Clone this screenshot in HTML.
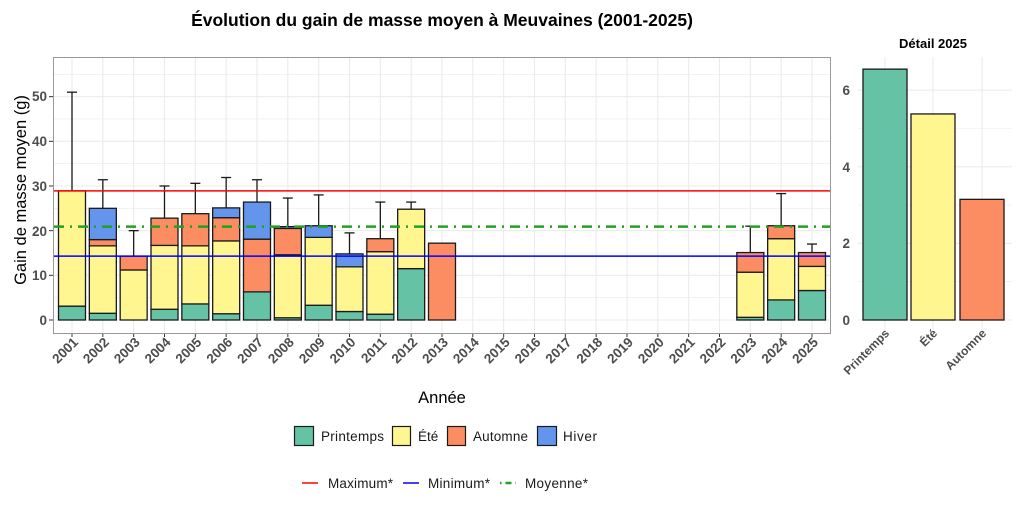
<!DOCTYPE html>
<html><head><meta charset="utf-8"><style>
html,body{margin:0;padding:0;background:#fff;}
svg{display:block;font-family:"Liberation Sans",sans-serif;}
.yl{font-size:13.5px;font-weight:bold;fill:#4d4d4d;}
.xl{font-size:13.5px;font-weight:bold;fill:#4d4d4d;}
.lg{font-size:13.5px;fill:#1a1a1a;}
</style></head><body>
<svg id="s" width="1024" height="512" viewBox="0 0 1024 512">
<g id="grid"></g>
<rect x="53.5" y="57.5" width="777" height="276" fill="none" stroke="#999" stroke-width="1"/>
<g id="bars"></g>
<text x="442" y="26" text-anchor="middle" font-size="17.5" font-weight="bold" fill="#000">Évolution du gain de masse moyen à Meuvaines (2001-2025)</text>
<text x="933" y="48" text-anchor="middle" font-size="13" font-weight="bold" fill="#000">Détail 2025</text>
<text class="yl" x="47" y="325" text-anchor="end">0</text>
<text class="yl" x="47" y="280" text-anchor="end">10</text>
<text class="yl" x="47" y="236" text-anchor="end">20</text>
<text class="yl" x="47" y="191" text-anchor="end">30</text>
<text class="yl" x="47" y="146" text-anchor="end">40</text>
<text class="yl" x="47" y="101" text-anchor="end">50</text>
<text class="yl" x="850" y="325" text-anchor="end" font-size="12">0</text>
<text class="yl" x="850" y="248" text-anchor="end" font-size="12">2</text>
<text class="yl" x="850" y="172" text-anchor="end" font-size="12">4</text>
<text class="yl" x="850" y="95" text-anchor="end" font-size="12">6</text>
<text x="26" y="190" transform="rotate(-90 26 190)" text-anchor="middle" font-size="16.5" fill="#000">Gain de masse moyen (g)</text>
<text x="442" y="403" text-anchor="middle" font-size="16.5" fill="#000">Année</text>
<g class="xl" text-anchor="end">
<text transform="translate(79,343) rotate(-45)">2001</text>
<text transform="translate(109.8,343) rotate(-45)">2002</text>
<text transform="translate(140.7,343) rotate(-45)">2003</text>
<text transform="translate(171.5,343) rotate(-45)">2004</text>
<text transform="translate(202.3,343) rotate(-45)">2005</text>
<text transform="translate(233.2,343) rotate(-45)">2006</text>
<text transform="translate(264,343) rotate(-45)">2007</text>
<text transform="translate(294.8,343) rotate(-45)">2008</text>
<text transform="translate(325.7,343) rotate(-45)">2009</text>
<text transform="translate(356.5,343) rotate(-45)">2010</text>
<text transform="translate(387.3,343) rotate(-45)">2011</text>
<text transform="translate(418.2,343) rotate(-45)">2012</text>
<text transform="translate(449,343) rotate(-45)">2013</text>
<text transform="translate(479.8,343) rotate(-45)">2014</text>
<text transform="translate(510.7,343) rotate(-45)">2015</text>
<text transform="translate(541.5,343) rotate(-45)">2016</text>
<text transform="translate(572.3,343) rotate(-45)">2017</text>
<text transform="translate(603.2,343) rotate(-45)">2018</text>
<text transform="translate(634,343) rotate(-45)">2019</text>
<text transform="translate(664.8,343) rotate(-45)">2020</text>
<text transform="translate(695.7,343) rotate(-45)">2021</text>
<text transform="translate(726.5,343) rotate(-45)">2022</text>
<text transform="translate(757.3,343) rotate(-45)">2023</text>
<text transform="translate(788.2,343) rotate(-45)">2024</text>
<text transform="translate(819,343) rotate(-45)">2025</text>
<text transform="translate(890,334) rotate(-45)" font-size="12">Printemps</text>
<text transform="translate(938,334) rotate(-45)" font-size="12">Été</text>
<text transform="translate(987,334) rotate(-45)" font-size="12">Automne</text>
</g>
<g stroke="#1a1a1a" stroke-width="1.2">
<rect x="294.5" y="426.5" width="19" height="19" fill="#66c2a5"/>
<rect x="392.5" y="426.5" width="18" height="19" fill="#fff68f"/>
<rect x="447.5" y="426.5" width="18" height="19" fill="#fc8d62"/>
<rect x="537.5" y="426.5" width="19" height="19" fill="#6495ed"/>
</g>
<text class="lg" x="321" y="441" textLength="63">Printemps</text>
<text class="lg" x="418" y="441">Été</text>
<text class="lg" x="473" y="441" textLength="55">Automne</text>
<text class="lg" x="563" y="441" textLength="34">Hiver</text>
<line x1="302" x2="318" y1="483" y2="483" stroke="#ff0000" stroke-width="1.5"/>
<line x1="403" x2="419" y1="483" y2="483" stroke="#0000ff" stroke-width="1.5"/>
<line x1="500" x2="516" y1="483" y2="483" stroke="#22a022" stroke-width="2.5" stroke-dasharray="1.5 4 6 4"/>
<text class="lg" x="328" y="488" textLength="65">Maximum*</text>
<text class="lg" x="428" y="488" textLength="62">Minimum*</text>
<text class="lg" x="525" y="488" textLength="63">Moyenne*</text>
</svg>
<script>
var NS="http://www.w3.org/2000/svg";
function el(p,t,a){var e=document.createElementNS(NS,t);for(var k in a)e.setAttribute(k,a[k]);p.appendChild(e);return e;}
var g=document.getElementById('grid'),b=document.getElementById('bars');
function Y(v){return 320-v*4.467;}
function X(i){return 72+30.833*i;}
for(var v=0;v<=55;v+=5)el(g,'line',{x1:54,x2:830,y1:Y(v),y2:Y(v),stroke:'#ebebeb','stroke-width':v%10?0.6:1.1});
for(var i=0;i<25;i++)el(g,'line',{x1:X(i),x2:X(i),y1:58,y2:333,stroke:'#ebebeb','stroke-width':1.1});
for(var i=0;i<25;i++)el(g,'line',{x1:X(i),x2:X(i),y1:333,y2:337,stroke:'#333','stroke-width':1});
for(var v=0;v<=50;v+=10)el(g,'line',{x1:49,x2:53,y1:Y(v),y2:Y(v),stroke:'#333','stroke-width':1});
function Y2(v){return 320-v*38.3;}
for(var v=0;v<=6.5;v+=1)el(g,'line',{x1:858,x2:1012,y1:Y2(v),y2:Y2(v),stroke:'#ebebeb','stroke-width':v%2?0.6:1.1});
[885,933,982].forEach(function(x){el(g,'line',{x1:x,x2:x,y1:57,y2:330,stroke:'#ebebeb','stroke-width':1.1});});
var C=['#66c2a5','#fff68f','#fc8d62','#6495ed'];
var D={2001:[[3.1,28.9,0,0],51],2002:[[1.5,16.6,18,25],31.4],2003:[[0,11.2,14.3,0],20],2004:[[2.4,16.7,22.8,0],30],
2005:[[3.6,16.6,23.8,0],30.6],2006:[[1.4,17.7,22.9,25.1],31.9],2007:[[6.3,6.3,18.1,26.4],31.4],2008:[[0.5,14.6,20.5,20.9],27.3],
2009:[[3.3,18.5,18.5,21.1],28],2010:[[1.9,11.9,11.9,14.8],19.5],2011:[[1.3,15.3,18.2,0],26.4],2012:[[11.5,24.8,0,0],26.4],
2013:[[0,0,17.2,0],0],2023:[[0.6,10.7,15.1,0],21],2024:[[4.5,18.2,21.1,0],28.3],2025:[[6.6,12,15.1,0],17]};
(function(){
for(var yr in D){var i=yr-2001,x=X(i),d=D[yr][0],prev=0;
 for(var k=0;k<4;k++){if(d[k]>prev){el(b,'rect',{x:x-13.5,y:Y(d[k]),width:27,height:Y(prev)-Y(d[k]),fill:C[k],stroke:'#1a1a1a','stroke-width':1.3});prev=d[k];}}
 var tp=prev,e=D[yr][1];
 if(e>tp){el(b,'line',{x1:x,x2:x,y1:Y(tp),y2:Y(e),stroke:'#1a1a1a','stroke-width':1.3});el(b,'line',{x1:x-5,x2:x+5,y1:Y(e),y2:Y(e),stroke:'#1a1a1a','stroke-width':1.3});}
}})();
el(b,'line',{x1:54,x2:830,y1:Y(28.9),y2:Y(28.9),stroke:'#ff0000','stroke-width':1.5});
el(b,'line',{x1:54,x2:830,y1:Y(14.3),y2:Y(14.3),stroke:'#0000ff','stroke-width':1.5});
el(b,'line',{x1:54,x2:830,y1:Y(20.9),y2:Y(20.9),stroke:'#22a022','stroke-width':2.5,'stroke-dasharray':'10 6 2 6'});
[[863,6.55,0],[911,5.38,1],[960,3.15,2]].forEach(function(r){el(b,'rect',{x:r[0],y:Y2(r[1]),width:44,height:320-Y2(r[1]),fill:C[r[2]],stroke:'#1a1a1a','stroke-width':1.3});});
</script>
</body></html>
